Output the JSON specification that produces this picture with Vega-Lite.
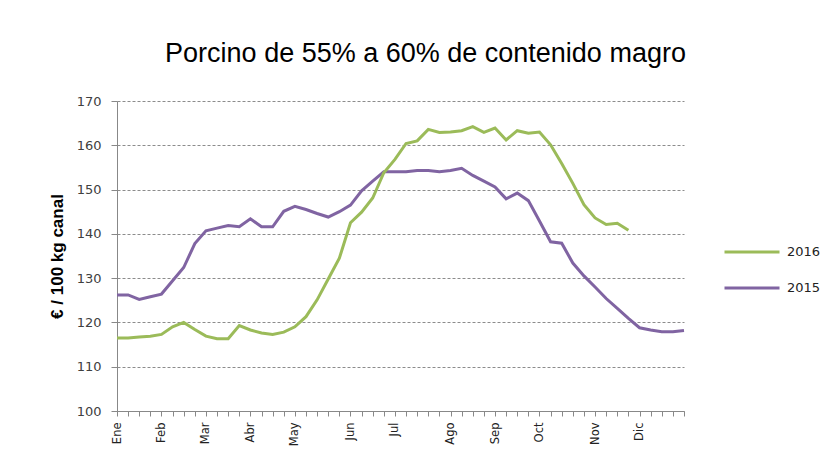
{
  "$schema": "https://vega.github.io/schema/vega-lite/v6.json",
  "autosize": {"type": "none"},
  "padding": {"left": 117, "top": 101, "right": 146, "bottom": 47},
  "width": 567,
  "height": 310,
  "background": "white",
  "title": {
    "text": "Porcino de 55% a 60% de contenido magro",
    "font": "Liberation Sans",
    "fontSize": 27,
    "fontWeight": "normal",
    "color": "#000000",
    "anchor": "middle",
    "frame": "group",
    "dx": 25,
    "baseline": "alphabetic",
    "offset": 6
  },
  "data": {
    "values": [
      {"semana": 1, "anio": "2015", "precio": 126.2},
      {"semana": 2, "anio": "2015", "precio": 126.2},
      {"semana": 3, "anio": "2015", "precio": 125.2},
      {"semana": 4, "anio": "2015", "precio": 125.8},
      {"semana": 5, "anio": "2015", "precio": 126.4},
      {"semana": 6, "anio": "2015", "precio": 129.4},
      {"semana": 7, "anio": "2015", "precio": 132.4},
      {"semana": 8, "anio": "2015", "precio": 137.8},
      {"semana": 9, "anio": "2015", "precio": 140.7},
      {"semana": 10, "anio": "2015", "precio": 141.3},
      {"semana": 11, "anio": "2015", "precio": 141.9},
      {"semana": 12, "anio": "2015", "precio": 141.6},
      {"semana": 13, "anio": "2015", "precio": 143.4},
      {"semana": 14, "anio": "2015", "precio": 141.6},
      {"semana": 15, "anio": "2015", "precio": 141.6},
      {"semana": 16, "anio": "2015", "precio": 145.1},
      {"semana": 17, "anio": "2015", "precio": 146.2},
      {"semana": 18, "anio": "2015", "precio": 145.5},
      {"semana": 19, "anio": "2015", "precio": 144.6},
      {"semana": 20, "anio": "2015", "precio": 143.8},
      {"semana": 21, "anio": "2015", "precio": 145.0},
      {"semana": 22, "anio": "2015", "precio": 146.5},
      {"semana": 23, "anio": "2015", "precio": 149.7},
      {"semana": 24, "anio": "2015", "precio": 151.9},
      {"semana": 25, "anio": "2015", "precio": 154.0},
      {"semana": 26, "anio": "2015", "precio": 154.0},
      {"semana": 27, "anio": "2015", "precio": 154.0},
      {"semana": 28, "anio": "2015", "precio": 154.3},
      {"semana": 29, "anio": "2015", "precio": 154.3},
      {"semana": 30, "anio": "2015", "precio": 154.0},
      {"semana": 31, "anio": "2015", "precio": 154.3},
      {"semana": 32, "anio": "2015", "precio": 154.8},
      {"semana": 33, "anio": "2015", "precio": 153.2},
      {"semana": 34, "anio": "2015", "precio": 151.9},
      {"semana": 35, "anio": "2015", "precio": 150.6},
      {"semana": 36, "anio": "2015", "precio": 147.9},
      {"semana": 37, "anio": "2015", "precio": 149.2},
      {"semana": 38, "anio": "2015", "precio": 147.5},
      {"semana": 39, "anio": "2015", "precio": 142.9},
      {"semana": 40, "anio": "2015", "precio": 138.2},
      {"semana": 41, "anio": "2015", "precio": 137.9},
      {"semana": 42, "anio": "2015", "precio": 133.4},
      {"semana": 43, "anio": "2015", "precio": 130.5},
      {"semana": 44, "anio": "2015", "precio": 128.0},
      {"semana": 45, "anio": "2015", "precio": 125.4},
      {"semana": 46, "anio": "2015", "precio": 123.2},
      {"semana": 47, "anio": "2015", "precio": 120.9},
      {"semana": 48, "anio": "2015", "precio": 118.8},
      {"semana": 49, "anio": "2015", "precio": 118.3},
      {"semana": 50, "anio": "2015", "precio": 117.9},
      {"semana": 51, "anio": "2015", "precio": 117.9},
      {"semana": 52, "anio": "2015", "precio": 118.2},
      {"semana": 1, "anio": "2016", "precio": 116.5},
      {"semana": 2, "anio": "2016", "precio": 116.5},
      {"semana": 3, "anio": "2016", "precio": 116.7},
      {"semana": 4, "anio": "2016", "precio": 116.9},
      {"semana": 5, "anio": "2016", "precio": 117.3},
      {"semana": 6, "anio": "2016", "precio": 119.0},
      {"semana": 7, "anio": "2016", "precio": 120.0},
      {"semana": 8, "anio": "2016", "precio": 118.4},
      {"semana": 9, "anio": "2016", "precio": 116.9},
      {"semana": 10, "anio": "2016", "precio": 116.3},
      {"semana": 11, "anio": "2016", "precio": 116.3},
      {"semana": 12, "anio": "2016", "precio": 119.3},
      {"semana": 13, "anio": "2016", "precio": 118.3},
      {"semana": 14, "anio": "2016", "precio": 117.6},
      {"semana": 15, "anio": "2016", "precio": 117.3},
      {"semana": 16, "anio": "2016", "precio": 117.8},
      {"semana": 17, "anio": "2016", "precio": 119.0},
      {"semana": 18, "anio": "2016", "precio": 121.3},
      {"semana": 19, "anio": "2016", "precio": 125.1},
      {"semana": 20, "anio": "2016", "precio": 129.8},
      {"semana": 21, "anio": "2016", "precio": 134.5},
      {"semana": 22, "anio": "2016", "precio": 142.5},
      {"semana": 23, "anio": "2016", "precio": 144.9},
      {"semana": 24, "anio": "2016", "precio": 148.1},
      {"semana": 25, "anio": "2016", "precio": 153.8},
      {"semana": 26, "anio": "2016", "precio": 156.8},
      {"semana": 27, "anio": "2016", "precio": 160.4},
      {"semana": 28, "anio": "2016", "precio": 161.0},
      {"semana": 29, "anio": "2016", "precio": 163.6},
      {"semana": 30, "anio": "2016", "precio": 162.9},
      {"semana": 31, "anio": "2016", "precio": 163.0},
      {"semana": 32, "anio": "2016", "precio": 163.3},
      {"semana": 33, "anio": "2016", "precio": 164.2},
      {"semana": 34, "anio": "2016", "precio": 162.9},
      {"semana": 35, "anio": "2016", "precio": 163.9},
      {"semana": 36, "anio": "2016", "precio": 161.2},
      {"semana": 37, "anio": "2016", "precio": 163.3},
      {"semana": 38, "anio": "2016", "precio": 162.7},
      {"semana": 39, "anio": "2016", "precio": 163.0},
      {"semana": 40, "anio": "2016", "precio": 160.1},
      {"semana": 41, "anio": "2016", "precio": 155.9},
      {"semana": 42, "anio": "2016", "precio": 151.4},
      {"semana": 43, "anio": "2016", "precio": 146.6},
      {"semana": 44, "anio": "2016", "precio": 143.6},
      {"semana": 45, "anio": "2016", "precio": 142.1},
      {"semana": 46, "anio": "2016", "precio": 142.4},
      {"semana": 47, "anio": "2016", "precio": 140.8}
    ]
  },
  "mark": {"type": "line", "strokeWidth": 3, "interpolate": "linear"},
  "encoding": {
    "x": {
      "field": "semana",
      "type": "ordinal",
      "sort": "ascending",
      "scale": {"type": "point", "padding": 0},
      "axis": {
        "title": null,
        "labelAngle": -90,
        "labelOverlap": false,
        "labelExpr": "datum.value == 1 ? 'Ene' : datum.value == 5 ? 'Feb' : datum.value == 9 ? 'Mar' : datum.value == 13 ? 'Abr' : datum.value == 17 ? 'May' : datum.value == 22 ? 'Jun' : datum.value == 26 ? 'Jul' : datum.value == 31 ? 'Ago' : datum.value == 35 ? 'Sep' : datum.value == 39 ? 'Oct' : datum.value == 44 ? 'Nov' : datum.value == 48 ? 'Dic' : ''",
        "labelFont": "DejaVu Sans",
        "labelFontSize": 11.5,
        "labelColor": "#222222",
        "labelPadding": 6,
        "tickSize": 5,
        "tickColor": "#888888",
        "domainColor": "#888888",
        "grid": false
      }
    },
    "y": {
      "field": "precio",
      "type": "quantitative",
      "scale": {"domain": [100, 170], "nice": false, "zero": false},
      "axis": {
        "title": "€ / 100 kg canal",
        "titleFont": "Liberation Sans",
        "titleFontSize": 17,
        "titleFontWeight": "bold",
        "titleColor": "#000000",
        "titlePadding": 10,
        "values": [100, 110, 120, 130, 140, 150, 160, 170],
        "labelFont": "DejaVu Sans",
        "labelFontSize": 13,
        "labelColor": "#404040",
        "labelPadding": 10,
        "tickSize": 6,
        "tickColor": "#888888",
        "domainColor": "#888888",
        "grid": true,
        "gridColor": "#8c8c8c",
        "gridDash": [3, 2],
        "gridWidth": 1
      }
    },
    "color": {
      "field": "anio",
      "type": "nominal",
      "scale": {"domain": ["2016", "2015"], "range": ["#9BBB59", "#8064A2"]},
      "legend": {
        "title": null,
        "orient": "none",
        "legendX": 606,
        "legendY": 144,
        "padding": 0,
        "symbolType": "stroke",
        "symbolSize": 3025,
        "symbolStrokeWidth": 3,
        "clipHeight": 14,
        "rowPadding": 22,
        "labelOffset": 6,
        "labelFont": "DejaVu Sans",
        "labelFontSize": 13,
        "labelColor": "#222222"
      }
    }
  },
  "config": {
    "view": {"stroke": null},
    "axis": {"domainWidth": 1, "tickWidth": 1}
  }
}
